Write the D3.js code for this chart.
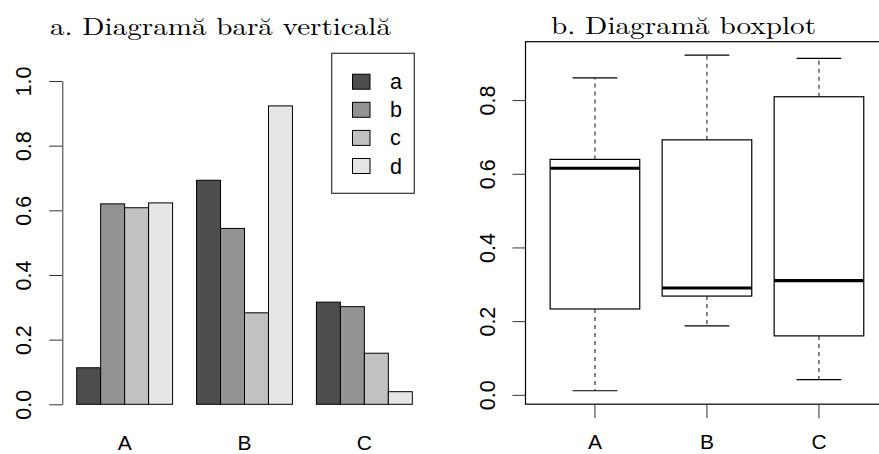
<!DOCTYPE html>
<html>
<head>
<meta charset="utf-8">
<script src="https://cdn.jsdelivr.net/npm/d3@7"></script>
<style>
  html, body { margin: 0; padding: 0; background: #fff; }
  svg { display: block; }
  .sans { font-family: "Liberation Sans", Arial, Helvetica, sans-serif; }
  .serif { font-family: "Latin Modern Roman", "Liberation Serif", "DejaVu Serif", serif; }
</style>
</head>
<body>
<svg id="chart" width="879" height="454"></svg>
<script>
// Grouped bar data: one value per category and series
const categories = ["A", "B", "C"];
const series = ["a", "b", "c", "d"];
const seriesA = [0.113, 0.693, 0.316];
const seriesB = [0.620, 0.544, 0.302];
const seriesC = [0.608, 0.283, 0.158];
const seriesD = [0.623, 0.923, 0.039];
const seriesColors = ["#4D4D4D", "#939393", "#C1C1C1", "#E6E6E6"];

// Boxplot statistics per category
const boxLow = [0.011, 0.187, 0.041];
const boxQ1 = [0.233, 0.268, 0.160];
const boxMedian = [0.615, 0.290, 0.310];
const boxQ3 = [0.639, 0.692, 0.809];
const boxHigh = [0.860, 0.922, 0.913];

const barTicks = [0, 0.2, 0.4, 0.6, 0.8, 1.0];
const boxTicks = [0, 0.2, 0.4, 0.6, 0.8];

const titleA = "a. Diagramă bară verticală";
const titleB = "b. Diagramă boxplot";

const svg = d3.select("#chart");
const fmt = d3.format(".1f");
const axisColor = "#333";
const labelBase = 449.5;

// ---------- Panel a: grouped vertical bars ----------
const barValues = [seriesA, seriesB, seriesC, seriesD];
const barRows = categories.map((cat, i) => ({
  cat,
  vals: series.map((s, j) => ({ s, j, v: barValues[j][i] }))
}));

const yBar = d3.scaleLinear().domain([0, 1]).range([404.3, 81]);
const xGroup = d3.scaleBand().domain(categories).range([64.7, 424.3])
  .paddingInner(0.2).paddingOuter(0.1);
const xSeries = d3.scaleBand().domain(series).range([0, xGroup.bandwidth()]).padding(0);

const gA = svg.append("g");
gA.selectAll("g.grp").data(barRows).join("g")
  .attr("class", "grp")
  .attr("transform", d => `translate(${xGroup(d.cat)},0)`)
  .selectAll("rect").data(d => d.vals).join("rect")
  .attr("x", d => xSeries(d.s))
  .attr("width", xSeries.bandwidth())
  .attr("y", d => yBar(d.v))
  .attr("height", d => yBar(0) - yBar(d.v))
  .attr("fill", d => seriesColors[d.j])
  .attr("stroke", "#000")
  .attr("stroke-width", 1);

// y axis
const axL = gA.append("g").attr("transform", "translate(62.3,0)")
  .call(d3.axisLeft(yBar).tickValues(barTicks).tickFormat(fmt).tickSize(13).tickSizeOuter(0));
axL.select(".domain").attr("stroke", axisColor).attr("stroke-width", 1);
axL.selectAll(".tick line").attr("stroke", axisColor);
axL.selectAll(".tick text")
  .attr("class", "sans").attr("font-size", 21.5).attr("fill", "#000")
  .attr("transform", "rotate(-90)")
  .attr("x", 0).attr("y", -31).attr("dy", 0)
  .attr("text-anchor", "middle");

// category labels
gA.selectAll("text.cat").data(categories).join("text")
  .attr("class", "sans cat")
  .attr("x", d => xGroup(d) + xGroup.bandwidth() / 2)
  .attr("y", labelBase)
  .attr("text-anchor", "middle").attr("font-size", 21)
  .text(d => d);

// legend
const leg = gA.append("g");
leg.append("rect").attr("x", 331.7).attr("y", 53.3).attr("width", 82.6).attr("height", 140)
  .attr("fill", "#fff").attr("stroke", axisColor).attr("stroke-width", 1.2);
const legRow = leg.selectAll("g.row").data(series).join("g")
  .attr("class", "row")
  .attr("transform", (d, i) => `translate(0,${81.7 + i * 28.1})`);
legRow.append("rect").attr("x", 352.5).attr("y", -7.5).attr("width", 17.5).attr("height", 15)
  .attr("fill", (d, i) => seriesColors[i]).attr("stroke", "#000").attr("stroke-width", 1);
legRow.append("text").attr("class", "sans").attr("x", 390).attr("y", 7.5)
  .attr("font-size", 21.5).text(d => d);

// title
svg.append("text").attr("class", "serif")
  .attr("x", 50).attr("y", 35).attr("font-size", 24)
  .attr("textLength", 341).attr("lengthAdjust", "spacingAndGlyphs")
  .text(titleA);

// ---------- Panel b: boxplots ----------
const boxes = categories.map((cat, i) => ({
  cat, low: boxLow[i], q1: boxQ1[i], med: boxMedian[i], q3: boxQ3[i], high: boxHigh[i]
}));
const lo = d3.min(boxLow), hi = d3.max(boxHigh), ext = (hi - lo) * 0.04;
const yBox = d3.scaleLinear().domain([lo - ext, hi + ext]).range([404.2, 41.7]);
const plotL = 525.5, plotR = 888.4;
const xBox = d3.scaleBand().domain(categories).range([plotL, plotR])
  .paddingInner(0.2).paddingOuter(0.22);
const bw = xBox.bandwidth();

const gB = svg.append("g");
const bx = gB.selectAll("g.box").data(boxes).join("g").attr("class", "box")
  .attr("transform", d => `translate(${xBox(d.cat)},0)`);

// whiskers (dashed)
bx.append("line").attr("x1", bw / 2).attr("x2", bw / 2)
  .attr("y1", d => yBox(d.q3)).attr("y2", d => yBox(d.high))
  .attr("stroke", "#333").attr("stroke-width", 1.2).attr("stroke-dasharray", "4,4");
bx.append("line").attr("x1", bw / 2).attr("x2", bw / 2)
  .attr("y1", d => yBox(d.q1)).attr("y2", d => yBox(d.low))
  .attr("stroke", "#333").attr("stroke-width", 1.2).attr("stroke-dasharray", "4,4");
// whisker caps
bx.append("line").attr("x1", bw / 4).attr("x2", bw * 3 / 4)
  .attr("y1", d => yBox(d.high)).attr("y2", d => yBox(d.high))
  .attr("stroke", "#000").attr("stroke-width", 1.2);
bx.append("line").attr("x1", bw / 4).attr("x2", bw * 3 / 4)
  .attr("y1", d => yBox(d.low)).attr("y2", d => yBox(d.low))
  .attr("stroke", "#000").attr("stroke-width", 1.2);
// box
bx.append("rect").attr("x", 0).attr("width", bw)
  .attr("y", d => yBox(d.q3)).attr("height", d => yBox(d.q1) - yBox(d.q3))
  .attr("fill", "#fff").attr("stroke", "#000").attr("stroke-width", 1.2);
// median
bx.append("line").attr("x1", 0).attr("x2", bw)
  .attr("y1", d => yBox(d.med)).attr("y2", d => yBox(d.med))
  .attr("stroke", "#000").attr("stroke-width", 3.2);

// frame
gB.append("rect").attr("x", plotL).attr("y", yBox.range()[1])
  .attr("width", plotR - plotL).attr("height", yBox.range()[0] - yBox.range()[1])
  .attr("fill", "none").attr("stroke", "#000").attr("stroke-width", 1.2);

// y axis
const axR = gB.append("g").attr("transform", `translate(${plotL},0)`)
  .call(d3.axisLeft(yBox).tickValues(boxTicks).tickFormat(fmt).tickSize(13).tickSizeOuter(0));
axR.select(".domain").remove();
axR.selectAll(".tick line").attr("stroke", axisColor);
axR.selectAll(".tick text")
  .attr("class", "sans").attr("font-size", 21.5).attr("fill", "#000")
  .attr("transform", "rotate(-90)")
  .attr("x", 0).attr("y", -31).attr("dy", 0)
  .attr("text-anchor", "middle");

// x axis
const axB = gB.append("g").attr("transform", `translate(0,${yBox.range()[0]})`)
  .call(d3.axisBottom(xBox).tickSize(14).tickSizeOuter(0));
axB.select(".domain").remove();
axB.selectAll(".tick line").attr("stroke", axisColor);
axB.selectAll(".tick text")
  .attr("class", "sans").attr("font-size", 21).attr("fill", "#000")
  .attr("y", labelBase - yBox.range()[0]).attr("dy", 0);

// title
svg.append("text").attr("class", "serif")
  .attr("x", 551).attr("y", 34).attr("font-size", 24)
  .attr("textLength", 265).attr("lengthAdjust", "spacingAndGlyphs")
  .text(titleB);
</script>
</body>
</html>
